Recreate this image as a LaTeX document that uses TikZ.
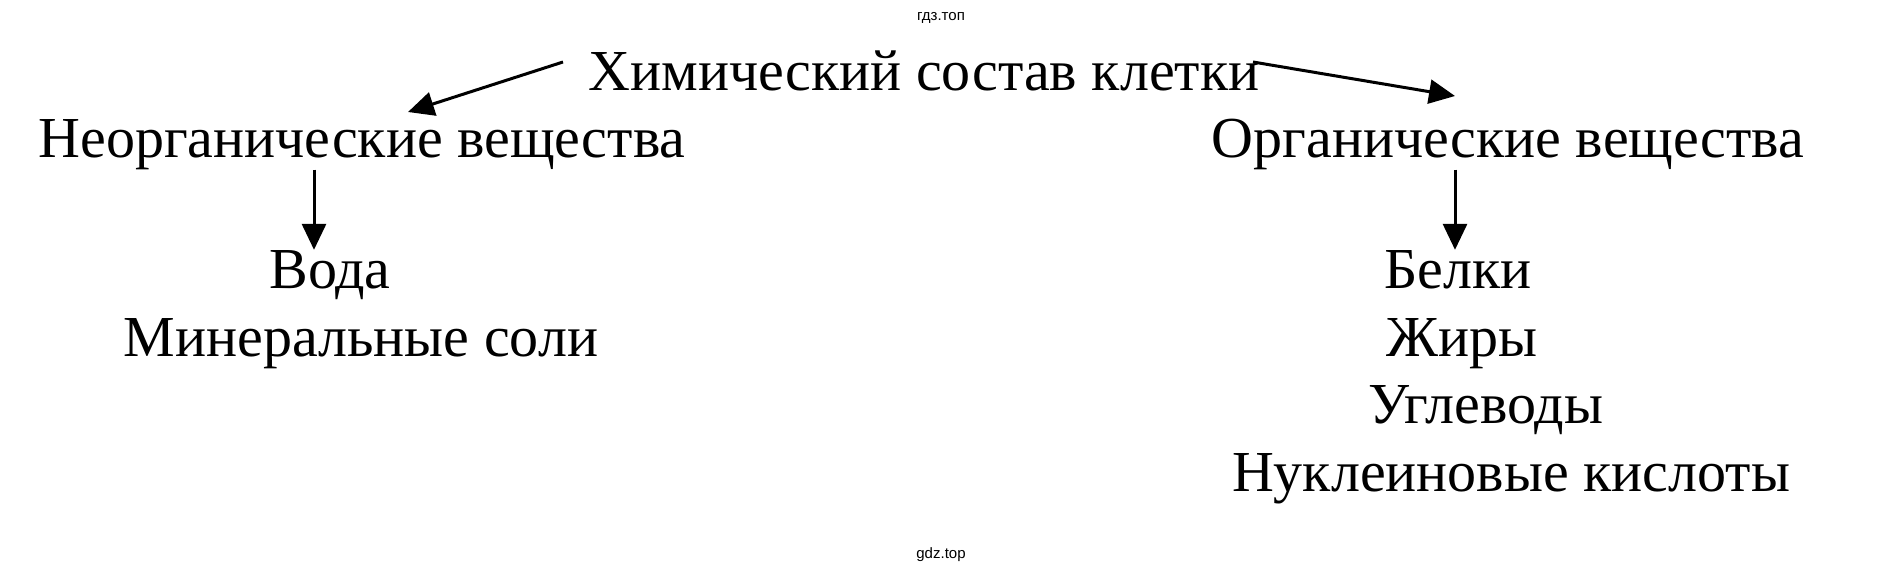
\documentclass[tikz,border=0pt]{standalone}
\usepackage{fontspec}
\setmainfont{Liberation Serif}
\newfontfamily\wmfont{Liberation Sans}
\usetikzlibrary{arrows.meta}
\begin{document}
\begin{tikzpicture}[x=1pt,y=-1pt,
  lbl/.style={inner sep=0pt,font=\fontsize{58}{60}\selectfont},
  wm/.style={inner sep=0pt,font=\wmfont\fontsize{15}{16}\selectfont},
  conn/.style={line width=3pt,-{Triangle[length=26pt,width=24pt]}}]
\useasboundingbox (0,0) rectangle (1879,573);
\fill[white] (0,0) rectangle (1879,573);
\node[wm,anchor=base] (wmtop) at (941,20) {гдз.топ};
\node[wm,anchor=base] (wmbot) at (941,558) {gdz.top};
\node[lbl,anchor=base] (root) at (924,90) {Химический состав клетки};
\node[lbl,anchor=base] (inorg) at (362,157) {Неорганические вещества};
\node[lbl,anchor=base] (org) at (1508,157) {Органические вещества};
\node[lbl,anchor=base] (voda) at (330,288) {Вода};
\node[lbl,anchor=base] (soli) at (361,356) {Минеральные соли};
\node[lbl,anchor=base] (belki) at (1458,288) {Белки};
\node[lbl,anchor=base] (zhiry) at (1462,356) {Жиры};
\node[lbl,anchor=base] (ugl) at (1486,423) {Углеводы};
\node[lbl,anchor=base] (nukl) at (1511,491) {Нуклеиновые кислоты};
\coordinate (a1s) at (563,62);
\coordinate (a1e) at (408,112);
\coordinate (a2s) at (1253,62);
\coordinate (a2e) at (1455,96);
\draw[conn] (a1s) -- (a1e);
\draw[conn] (a2s) -- (a2e);
\draw[conn] ([xshift=-16pt]inorg.south -| voda.north) -- ([xshift=-16pt]voda.north);
\draw[conn] ([xshift=-3pt]org.south -| belki.north) -- ([xshift=-3pt]belki.north);
\end{tikzpicture}
\end{document}
